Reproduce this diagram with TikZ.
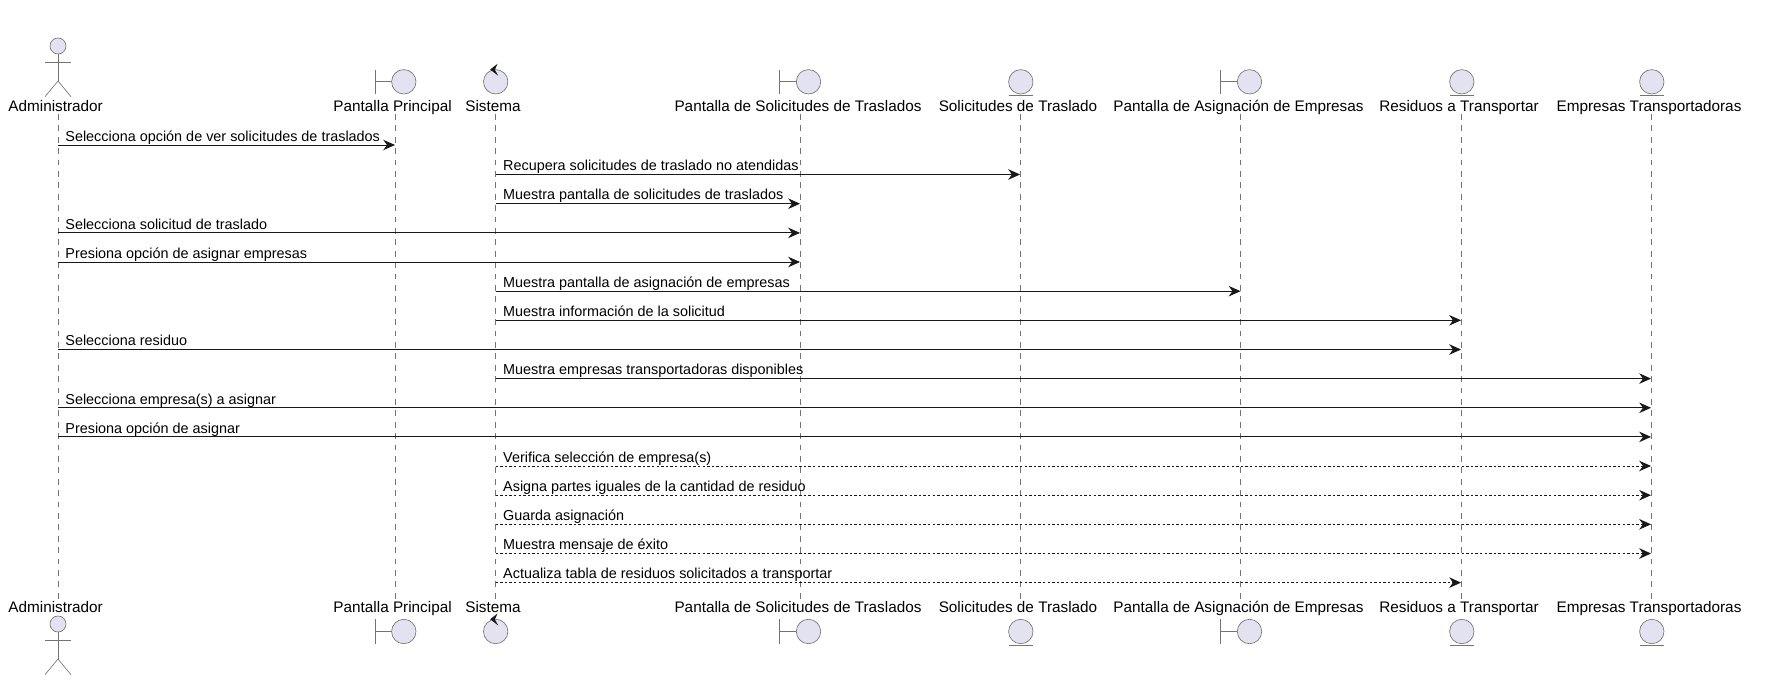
\documentclass[tikz,border=0pt]{standalone}
\usepackage{fontspec}
\setmainfont{Liberation Sans}
\usetikzlibrary{arrows.meta}
\definecolor{umlfill}{HTML}{E2E2F0}
\definecolor{umlline}{HTML}{181818}
\tikzset{
  x=1pt,y=-1pt,
  headtext/.style={inner sep=0pt,anchor=base,font=\fontsize{15.3}{18}\selectfont,text=black},
  msgtext/.style={inner sep=0pt,anchor=base west,font=\fontsize{14.4}{17}\selectfont,text=black},
  lifeline/.style={draw=umlline!60,line width=0.55pt,dash pattern=on 5.7pt off 5.7pt},
  shapeline/.style={draw=umlline!60,line width=0.65pt},
  bodycircle/.style={shapeline,fill=umlfill},
  syncmsg/.style={draw=umlline,line width=0.9pt,-{Stealth[length=11.8pt,width=10.5pt,inset=3.8pt,color=umlline]}},
  asyncmsg/.style={draw=umlline,line width=0.9pt,dash pattern=on 2.3pt off 2.3pt,-{Stealth[length=11.8pt,width=10.5pt,inset=3.8pt,color=umlline]}},
}
% \lane{name}{lifeline x}{label x}{label}
\newcommand{\lane}[4]{%
  \coordinate (#1T) at (#2,114);
  \coordinate (#1B) at (#2,599);
  \node[headtext] (#1H) at (#3,111) {#4};
  \node[headtext] (#1F) at (#3,612.7) {#4};
  \draw[lifeline] (#1T) -- (#1B);
}
\newcommand{\boundaryicon}[2]{% x of circle, y centre
  \draw[shapeline] (#1-28.8,#2-12.2) -- (#1-28.8,#2+12.2);
  \draw[shapeline] (#1-28.8,#2) -- (#1-12.2,#2);
  \draw[bodycircle] (#1,#2) circle[radius=12.2];
}
\newcommand{\entityicon}[2]{%
  \draw[bodycircle] (#1,#2) circle[radius=12.2];
  \draw[shapeline] (#1-12.2,#2+14) -- (#1+12.2,#2+14);
}
\newcommand{\controlicon}[2]{%
  \draw[bodycircle] (#1,#2) circle[radius=12.2];
  \fill[umlline] (#1-5.5,#2-12.3) -- (#1+1.8,#2-18) -- (#1-0.8,#2-12) -- (#1+2.5,#2-6) -- cycle;
}
\newcommand{\actoricon}[2]{% x, y of head centre
  \draw[bodycircle] (#1,#2) circle[radius=8];
  \draw[shapeline] (#1,#2+8) -- (#1,#2+35);
  \draw[shapeline] (#1-13,#2+16) -- (#1+13,#2+16);
  \draw[shapeline] (#1-13,#2+50.7) -- (#1,#2+35) -- (#1+13,#2+50.7);
}
% \msg{style}{from}{to}{y}{text}
\newcommand{\msg}[5]{%
  \coordinate (s) at (#2T |- 0,#4);
  \coordinate (e) at (#3T |- 0,#4);
  \draw[#1] (s) -- (e);
  \node[msgtext] at ([shift={(7.4,-3.8)}]s) {#5};
}
\begin{document}
\begin{tikzpicture}
\useasboundingbox (0,0) rectangle (1792,688);
\fill[white] (0,0) rectangle (1792,688);
\lane{adm}{57.8}{55.6}{Administrador}
\lane{pp}{395}{392.6}{Pantalla Principal}
\lane{sis}{495.6}{493}{Sistema}
\lane{ps}{800}{798}{Pantalla de Solicitudes de Traslados}
\lane{st}{1020}{1018}{Solicitudes de Traslado}
\lane{pa}{1240.5}{1238.5}{Pantalla de Asignación de Empresas}
\lane{rt}{1461}{1459}{Residuos a Transportar}
\lane{et}{1651}{1649}{Empresas Transportadoras}

\actoricon{58}{46}
\boundaryicon{403.8}{81.8}
\controlicon{495.7}{81.8}
\boundaryicon{808.5}{81.8}
\entityicon{1020.8}{81.8}
\boundaryicon{1249.5}{81.8}
\entityicon{1461.8}{81.8}
\entityicon{1651.8}{81.8}

\actoricon{58}{624}
\boundaryicon{403.8}{631.5}
\controlicon{495.7}{631.5}
\boundaryicon{808.5}{631.5}
\entityicon{1020.8}{631.5}
\boundaryicon{1249.5}{631.5}
\entityicon{1461.8}{631.5}
\entityicon{1651.8}{631.5}

\msg{syncmsg}{adm}{pp}{145}{Selecciona opción de ver solicitudes de traslados}
\msg{syncmsg}{sis}{st}{174.5}{Recupera solicitudes de traslado no atendidas}
\msg{syncmsg}{sis}{ps}{203.7}{Muestra pantalla de solicitudes de traslados}
\msg{syncmsg}{adm}{ps}{232.9}{Selecciona solicitud de traslado}
\msg{syncmsg}{adm}{ps}{262}{Presiona opción de asignar empresas}
\msg{syncmsg}{sis}{pa}{291.2}{Muestra pantalla de asignación de empresas}
\msg{syncmsg}{sis}{rt}{320.3}{Muestra información de la solicitud}
\msg{syncmsg}{adm}{rt}{349.5}{Selecciona residuo}
\msg{syncmsg}{sis}{et}{378.6}{Muestra empresas transportadoras disponibles}
\msg{syncmsg}{adm}{et}{407.8}{Selecciona empresa(s) a asignar}
\msg{syncmsg}{adm}{et}{436.9}{Presiona opción de asignar}
\msg{asyncmsg}{sis}{et}{466}{Verifica selección de empresa(s)}
\msg{asyncmsg}{sis}{et}{495.2}{Asigna partes iguales de la cantidad de residuo}
\msg{asyncmsg}{sis}{et}{524.3}{Guarda asignación}
\msg{asyncmsg}{sis}{et}{553.5}{Muestra mensaje de éxito}
\msg{asyncmsg}{sis}{rt}{582.6}{Actualiza tabla de residuos solicitados a transportar}
\end{tikzpicture}
\end{document}
